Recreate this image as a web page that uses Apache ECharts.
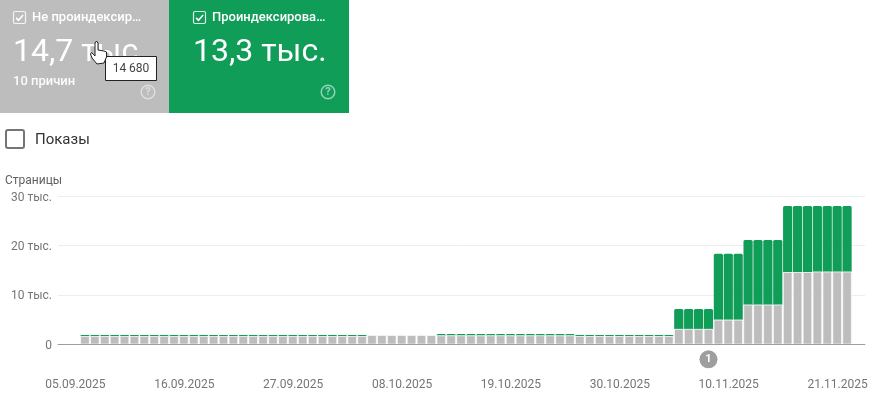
<!DOCTYPE html>
<html><head><meta charset="utf-8">
<style>html,body{margin:0;padding:0;background:#fff}#c{width:885px;height:418px}</style>
<script src="https://cdn.jsdelivr.net/npm/echarts@6/dist/echarts.min.js"></script></head>
<body><div id="c"></div>
<script>
const dates=['05.09.2025','06.09.2025','07.09.2025','08.09.2025','09.09.2025','10.09.2025','11.09.2025','12.09.2025','13.09.2025','14.09.2025','15.09.2025','16.09.2025','17.09.2025','18.09.2025','19.09.2025','20.09.2025','21.09.2025','22.09.2025','23.09.2025','24.09.2025','25.09.2025','26.09.2025','27.09.2025','28.09.2025','29.09.2025','30.09.2025','01.10.2025','02.10.2025','03.10.2025','04.10.2025','05.10.2025','06.10.2025','07.10.2025','08.10.2025','09.10.2025','10.10.2025','11.10.2025','12.10.2025','13.10.2025','14.10.2025','15.10.2025','16.10.2025','17.10.2025','18.10.2025','19.10.2025','20.10.2025','21.10.2025','22.10.2025','23.10.2025','24.10.2025','25.10.2025','26.10.2025','27.10.2025','28.10.2025','29.10.2025','30.10.2025','31.10.2025','01.11.2025','02.11.2025','03.11.2025','04.11.2025','05.11.2025','06.11.2025','07.11.2025','08.11.2025','09.11.2025','10.11.2025','11.11.2025','12.11.2025','13.11.2025','14.11.2025','15.11.2025','16.11.2025','17.11.2025','18.11.2025','19.11.2025','20.11.2025','21.11.2025'];
const notIndexed=[1640,1640,1640,1640,1640,1640,1640,1640,1640,1640,1640,1640,1640,1640,1640,1640,1640,1640,1640,1640,1640,1640,1640,1640,1640,1640,1640,1640,1640,
1840,1840,1840,1840,1840,1840,1840,
1780,1780,1780,1780,1780,1780,1780,1780,1780,1780,1780,1780,1780,1780,
1640,1640,1640,1640,1640,1640,1640,1640,1640,1640,
3100,3100,3100,3100,4950,4950,4950,8000,8000,8000,8000,14580,14580,14580,14680,14680,14680,14680];
const indexed=[240,240,240,240,240,240,240,240,240,240,240,240,240,240,240,240,240,240,240,240,240,240,240,240,240,240,240,240,240,
0,0,0,0,0,0,0,
300,300,300,300,300,300,300,300,300,300,300,300,300,300,
240,240,240,240,240,240,240,240,240,240,
4050,4050,4050,4050,13350,13350,13350,13100,13100,13100,13100,13420,13420,13420,13320,13320,13320,13320];
const yTicks={0:'0',10000:'10 тыс.',20000:'20 тыс.',30000:'30 тыс.'};
const annotationDate='07.11.2025';
const GRAY='#bdbdbd',GREEN='#0f9d58',FONT='Roboto';

function txt(x,y,text,size,fill,weight){return {type:'text',x,y,z:10,style:{text,fontFamily:FONT,fontSize:size,fill,fontWeight:weight||400,textVerticalAlign:'middle'}};}
function check(x,y){return [
 {type:'rect',z:10,shape:{x,y,width:12,height:12,r:1.5},style:{fill:'rgba(0,0,0,0)',stroke:'rgba(255,255,255,.85)',lineWidth:1.2}},
 {type:'polyline',z:10,shape:{points:[[x+2.6,y+6.4],[x+5,y+8.8],[x+9.6,y+3.4]]},style:{stroke:'#fff',lineWidth:1.6,fill:null}}];}
function help(cx,cy,col){return [
 {type:'circle',z:10,shape:{cx,cy,r:6.8},style:{fill:'rgba(0,0,0,0)',stroke:col,lineWidth:1.5}},
 {type:'text',z:10,x:cx,y:cy,style:{text:'?',fontFamily:FONT,fontSize:11,fontWeight:700,fill:col,textAlign:'center',textVerticalAlign:'middle'}}];}

const chart=echarts.init(document.getElementById('c'),null,{renderer:'canvas'});
chart.setOption({
 animation:false,
 grid:[{left:58,right:20,top:196,height:148.3},{left:80,right:33,top:196,height:148.3}],
 xAxis:[
  {gridIndex:0,type:'value',min:0,max:1,z:10,axisLabel:{show:false},axisTick:{show:false},splitLine:{show:false},
   axisLine:{show:true,lineStyle:{color:'#9e9e9e',width:1}}},
  {gridIndex:1,type:'category',data:dates,axisLine:{show:false},axisTick:{show:false},
   axisLabel:{interval:10,margin:35,fontFamily:FONT,fontSize:12,color:'#757575',padding:[0,19,0,0],hideOverlap:false,showMinLabel:true,showMaxLabel:true}}],
 yAxis:[
  {gridIndex:0,type:'value',min:0,max:30000,interval:10000,axisLine:{show:false},axisTick:{show:false},
   splitLine:{lineStyle:{color:'#eeeeee',width:1}},
   axisLabel:{margin:6,verticalAlign:'top',lineHeight:3,fontFamily:FONT,fontSize:12,color:'#757575',formatter:v=>yTicks[v]}},
  {gridIndex:1,type:'value',min:0,max:30000,interval:10000,show:false}],
 series:[
  {type:'bar',name:'Не проиндексировано',xAxisIndex:1,yAxisIndex:1,stack:'p',data:notIndexed,barWidth:9.2,z:3,
   itemStyle:{color:GRAY,borderColor:'#fff',borderWidth:0.6},
   markPoint:{symbol:'circle',symbolSize:18,symbolOffset:[0,15],silent:true,
    itemStyle:{color:'#9e9e9e',borderWidth:0},label:{show:true,position:'inside',formatter:'1',color:'#fff',fontFamily:FONT,fontSize:11,fontWeight:700},
    data:[{coord:[annotationDate,0]}]}},
  {type:'bar',name:'Проиндексировано',xAxisIndex:1,yAxisIndex:1,stack:'p',data:indexed,barWidth:9.2,z:2,
   itemStyle:{color:GREEN,borderRadius:[1.5,1.5,0,0]}}
 ],
 graphic:[
  {type:'rect',z:5,shape:{x:0,y:0,width:169,height:113},style:{fill:GRAY}},
  {type:'rect',z:5,shape:{x:169,y:0,width:180,height:113},style:{fill:GREEN}},
  ...check(13.5,11.5),...check(193.5,11.5),
  txt(32,18,'Не проиндексир…',13,'#fff',500),
  txt(212,18,'Проиндексирова…',13,'#fff',500),
  txt(13,53,'14,7 тыс.',32,'#fff',400),
  txt(193,53,'13,3 тыс.',32,'#fff',400),
  txt(13,82,'10 причин',13,'rgba(255,255,255,.95)',500),
  ...help(148,92,'rgba(255,255,255,.5)'),...help(328,92,'rgba(255,255,255,.55)'),
  {type:'rect',z:10,shape:{x:105.5,y:56.5,width:51,height:24},style:{fill:'#fff',stroke:'#222',lineWidth:1}},
  {type:'text',z:11,x:131,y:69,style:{text:'14 680',fontFamily:FONT,fontSize:12,fill:'#444',textAlign:'center',textVerticalAlign:'middle'}},
  {type:'polygon',z:12,shape:{points:[[95,43],[96.5,41],[98,43],[98,50],[101,50.5],[104,51],[106.5,52],[106.5,57],[104,63],[97,64],[92,58],[90.5,54],[91.5,52.5],[93,54],[95,56]]},style:{fill:'#fff',stroke:'#222',lineWidth:1}},
  {type:'rect',z:10,shape:{x:6,y:130,width:18,height:18,r:2},style:{fill:'#fff',stroke:'#757575',lineWidth:2}},
  txt(35,140,'Показы',15,'#333333',400),
  txt(5,181,'Страницы',12,'#616161',400)
 ]
});
</script></body></html>
